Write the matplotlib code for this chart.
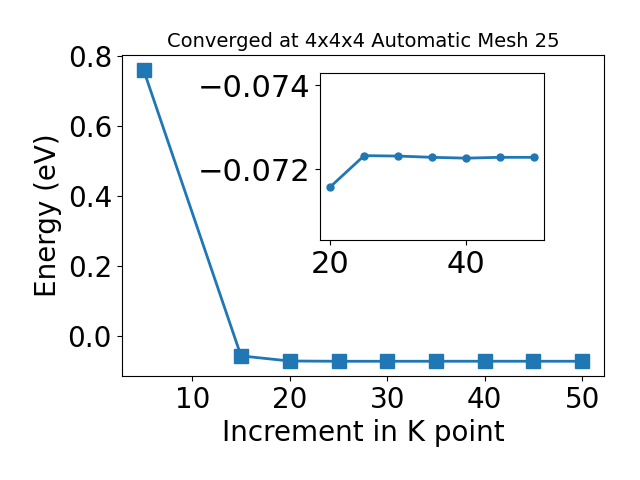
import matplotlib
matplotlib.use('Agg')
import matplotlib.pyplot as plt

# k-point increments and total energies
kpoints = [5, 15, 20, 25, 30, 35, 40, 45, 50]
energy = [0.76, -0.057, -0.07157, -0.07232, -0.07231, -0.07228, -0.07226, -0.07228, -0.07228]

# converged region shown in the inset
kpoints_zoom = kpoints[2:]
energy_zoom = energy[2:]

fig = plt.figure(figsize=(6.4, 4.8), dpi=100)
ax = fig.add_axes([0.19, 0.217, 0.754, 0.668])
ax.plot(kpoints, energy, marker='s', markersize=10, linewidth=2, color='#1f77b4')
ax.set_xlabel('Increment in K point', fontsize=20)
ax.set_ylabel('Energy (eV)', fontsize=20)
ax.tick_params(labelsize=20)
ax.set_title('Converged at 4x4x4 Automatic Mesh 25', fontsize=14)

ins = fig.add_axes([0.5, 0.5, 0.35, 0.348])
ins.plot(kpoints_zoom, energy_zoom, marker='o', markersize=5, linewidth=2, color='#1f77b4')
ins.set_ylim(-0.0703, -0.0743)
ins.set_yticks([-0.072, -0.074])
ins.set_xticks([20, 40])
ins.tick_params(labelsize=22)

plt.savefig('out.png')
